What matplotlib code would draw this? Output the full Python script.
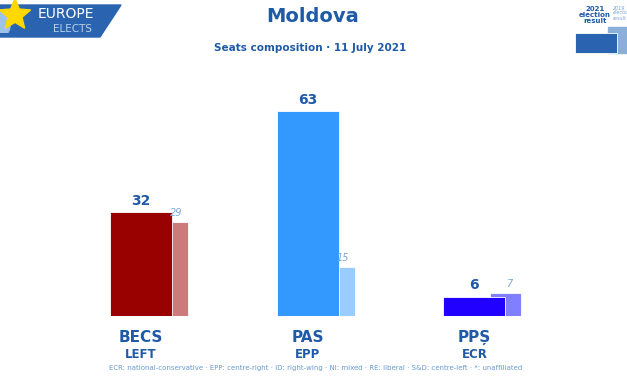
import matplotlib.pyplot as plt
from matplotlib.patches import Polygon, Rectangle, Circle
import matplotlib.path as mpath

parties = ['BECS', 'PAS', 'PPȘ']
groups = ['LEFT', 'EPP', 'ECR']
seats_2021 = [32, 63, 6]
seats_2019 = [29, 15, 7]
colors_2021 = ['#990000', '#3399FF', '#2200FF']
colors_2019 = ['#CC7A7A', '#99CCFF', '#8080FF']

W, H = 627, 376
blue = '#1F5AA6'
plt.rcParams['font.family'] = ['Liberation Sans Narrow', 'DejaVu Sans']

fig = plt.figure(figsize=(W / 100, H / 100), dpi=100)


def fx(x):
    return x / W


def fy(y):
    return 1 - y / H


# bar axes: x=0 at 141 px, 166.7 px per unit; y 3.25 px per seat
ax = fig.add_axes([fx(57.7), fy(316), 500 / W, 227.5 / H])
ax.set_xlim(-0.5, 2.5)
ax.set_ylim(0, 70)
ax.axis('off')

for i in range(len(parties)):
    ax.bar(i + 0.189, seats_2019[i], width=0.186, color=colors_2019[i],
           edgecolor='white', linewidth=0.6, zorder=1)
    ax.bar(i, seats_2021[i], width=0.372, color=colors_2021[i],
           edgecolor='white', linewidth=0.6, zorder=2)
    ax.text(i, seats_2021[i] + 1.3, str(seats_2021[i]), ha='center', va='bottom',
            fontsize=10, fontweight='bold', color=blue)
    ax.text(i + 0.21, seats_2019[i] + 1.3, str(seats_2019[i]), ha='center', va='bottom',
            fontsize=7, style='italic', color='#7AA7DA')
    ax.text(i, -4.2, parties[i], ha='center', va='top', fontsize=11,
            fontweight='bold', color=blue)
    ax.text(i, -9.8, groups[i], ha='center', va='top', fontsize=8.5,
            fontweight='bold', color=blue)

# titles
fig.text(fx(313), fy(17), 'Moldova', ha='center', va='center', fontsize=14,
         fontweight='bold', color=blue)
fig.text(fx(310), fy(48), 'Seats composition · 11 July 2021', ha='center', va='center',
         fontsize=7.5, fontweight='bold', color=blue)
fig.text(fx(316), fy(368),
         'ECR: national-conservative · EPP: centre-right · ID: right-wing · NI: mixed · '
         'RE: liberal · S&D: centre-left · *: unaffiliated',
         ha='center', va='center', fontsize=5, color='#6A9BD0')

# logo
fig.patches.append(Polygon([(fx(0), fy(5)), (fx(121), fy(5)), (fx(100), fy(37)), (fx(0), fy(37))],
                           closed=True, transform=fig.transFigure, color='#2A64B0', zorder=1))
ax_star = fig.add_axes([fx(-3), fy(33), 36 / W, 36 / H], zorder=5)
ax_star.axis('off')
ax_star.set_xlim(-1.1, 1.1)
ax_star.set_ylim(-1.1, 1.1)
ax_star.add_patch(Circle((-1.2, -0.6), 0.9, color='#9CC3E6'))
star = mpath.Path.unit_regular_star(5, 0.45)
ax_star.add_patch(Polygon(star.vertices, closed=True, color='#FFD800'))
fig.text(fx(66), fy(14), 'EUROPE', ha='center', va='center', fontsize=10, color='white')
fig.text(fx(72), fy(29), 'ELECTS', ha='center', va='center', fontsize=7.5, color='#B8D0EE')

# top-right legend
fig.patches.append(Rectangle((fx(608), fy(53)), 19 / W, 26 / H, transform=fig.transFigure,
                             color='#8AB0DA', zorder=1))
fig.patches.append(Rectangle((fx(575), fy(53)), 42 / W, 20 / H, transform=fig.transFigure,
                             color='#2A64B0', ec='white', lw=0.6, zorder=2))
fig.text(fx(595), fy(15), '2021\nelection\nresult', ha='center', va='center', fontsize=5,
         fontweight='bold', color=blue, linespacing=1.0)
fig.text(fx(613), fy(13), '2019\nelection\nresult', ha='left', va='center', fontsize=3.5,
         style='italic', color='#7AA7DA', linespacing=1.0)

fig.savefig('out.png', dpi=100)
